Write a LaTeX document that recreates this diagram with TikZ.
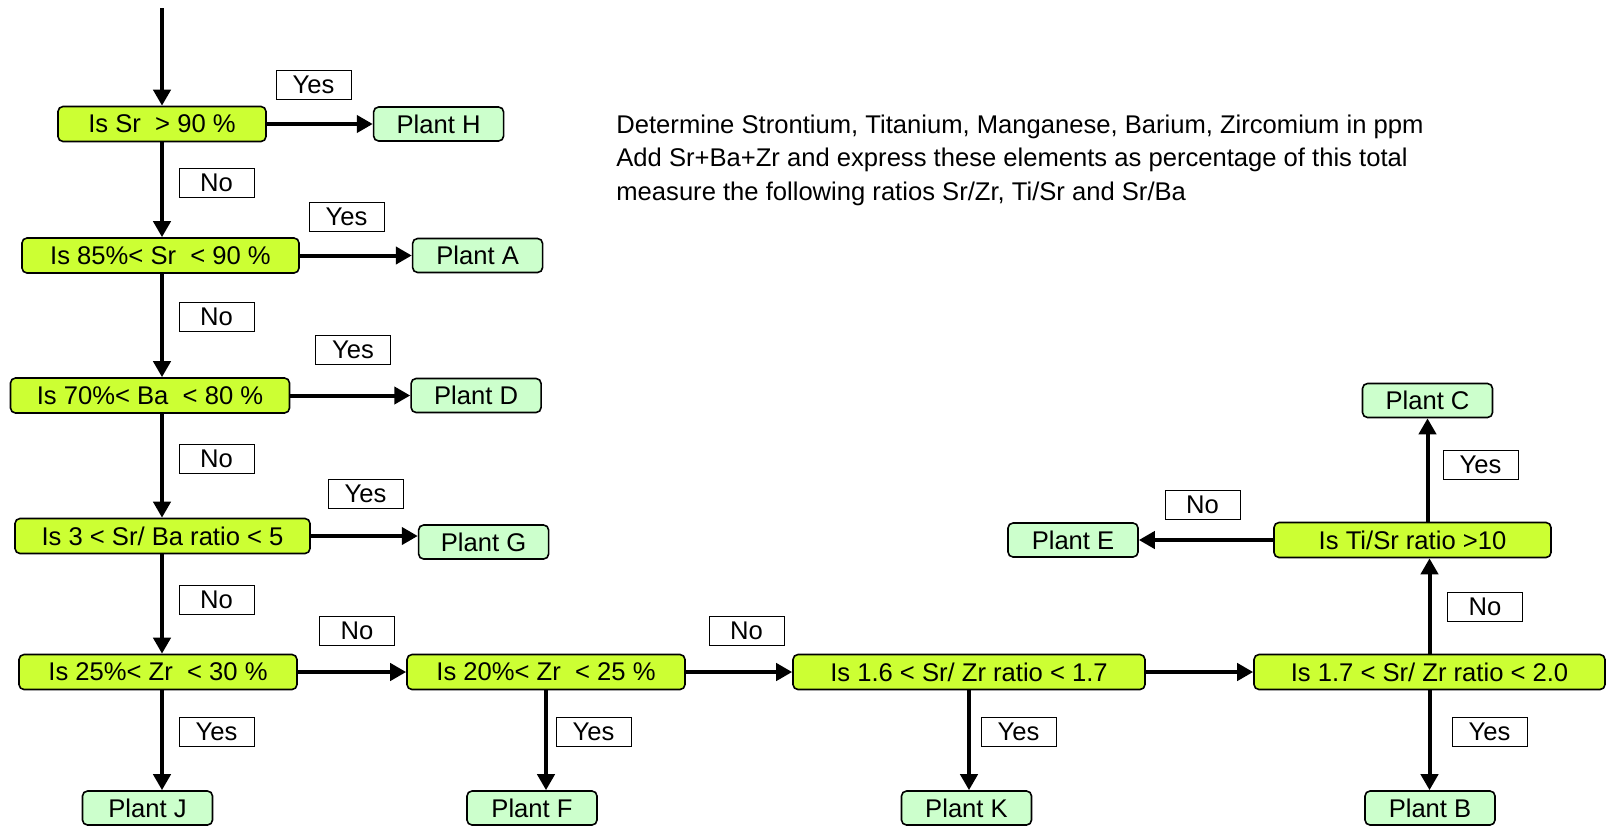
\documentclass[tikz,border=0pt]{standalone}
\usepackage{fontspec}
\setmainfont{Liberation Sans}
\usepackage{xcolor}
\usepackage{tikz}
\usetikzlibrary{arrows.meta, positioning, calc}
\definecolor{test-lime}{RGB}{204, 255, 51}
\definecolor{plant-mint}{RGB}{204, 255, 204}
\newcommand{\chartfont}{\fontsize{12.8}{16.75}\selectfont}

\begin{document}
\begin{tikzpicture}[x=0.5pt, y=-0.5pt,
        test/.style={rectangle, rounded corners=2.5pt, draw=black, line width=0.8pt,
                     fill=test-lime, minimum height=17.5pt, inner sep=0pt,
                     font=\chartfont},
        plant/.style={rectangle, rounded corners=2.5pt, draw=black, line width=0.8pt,
                      fill=plant-mint, minimum width=65pt, minimum height=17pt,
                      inner sep=0pt, font=\chartfont},
        tag/.style={rectangle, draw=black, line width=0.5pt, fill=white,
                    minimum width=37.5pt, minimum height=14.5pt, inner sep=0pt,
                    font=\chartfont},
        arr/.style={-{Triangle[length=8pt, width=8.5pt]}, line width=2pt}
      ]
        \useasboundingbox (0,0) rectangle (1609,825);
        \coordinate (top) at (162,8);
        \coordinate (spine) at (162,0);

        % left column of tests
        \node[test, minimum width=104pt]   (sr90) at (162,124)   {Is Sr\ \ > 90 \%};
        \node[test, minimum width=138.5pt] (sr85) at (160.5,255.5) {Is 85\%< Sr\ \ < 90 \%};
        \node[test, minimum width=139.5pt] (ba70) at (150,395.5) {Is 70\%< Ba\ \ < 80 \%};
        \node[test, minimum width=147.5pt] (srba) at (162.5,536) {Is 3 < Sr/ Ba ratio < 5};
        \node[test, minimum width=139pt]   (zr25) at (158,672)   {Is 25\%< Zr\ \ < 30 \%};

        % bottom row and right side
        \node[test, minimum width=139pt]   (zr20)   at (546,672)    {Is 20\%< Zr\ \ < 25 \%};
        \node[test, minimum width=176pt]   (srzr16) at (969,672)    {Is 1.6 < Sr/ Zr ratio < 1.7};
        \node[test, minimum width=175.5pt] (srzr17) at (1429.5,672) {Is 1.7 < Sr/ Zr ratio < 2.0};
        \node[test, minimum width=138.5pt] (tisr)   at (1412.5,540) {Is Ti/Sr ratio >10};

        % plants
        \node[plant, right=53pt of sr90] (pH) {Plant H};
        \node[plant, right=56pt of sr85] (pA) {Plant A};
        \node[plant, right=60pt of ba70] (pD) {Plant D};
        \node[plant, right=53.5pt of srba, yshift=-3pt] (pG) {Plant G};
        \node[plant] (pJ) at (147.5,808)  {Plant J};
        \node[plant] (pF) at (532,808)    {Plant F};
        \node[plant] (pK) at (966.5,808)  {Plant K};
        \node[plant] (pB) at (1430,808)   {Plant B};
        \node[plant] (pC) at (1427.5,400.5) {Plant C};
        \node[plant] (pE) at (1073,540)   {Plant E};

        % arrows
        \draw[arr] (top) -- (sr90);
        \draw[arr] (sr90.south -| spine) -- (sr85.north -| spine);
        \draw[arr] (sr85.south -| spine) -- (ba70.north -| spine);
        \draw[arr] (ba70.south -| spine) -- (srba.north -| spine);
        \draw[arr] (srba.south -| spine) -- (zr25.north -| spine);
        \draw[arr] (zr25.south -| spine) -- (pJ.north -| spine);
        \draw[arr] (sr90) -- (pH);
        \draw[arr] (sr85) -- (pA);
        \draw[arr] (ba70) -- (pD);
        \draw[arr] (srba.east) -- (srba.east -| pG.west);
        \draw[arr] (zr25) -- (zr20);
        \draw[arr] (zr20) -- (srzr16);
        \draw[arr] (srzr16) -- (srzr17);
        \draw[arr] (zr20.south) -- (zr20.south |- pF.north);
        \draw[arr] (srzr16.south) -- (srzr16.south |- pK.north);
        \draw[arr] (srzr17.south) -- (srzr17.south |- pB.north);
        \draw[arr] (srzr17.north) -- (srzr17.north |- tisr.south);
        \draw[arr] (tisr) -- (pE);
        \draw[arr] (pC.south |- tisr.north) -- (pC.south);

        % yes / no tags
        \node[tag] (yes1) at (313.5,85)    {Yes};
        \node[tag] (no1)  at (216.5,182.5) {No};
        \node[tag] (yes2) at (346.5,216.5) {Yes};
        \node[tag] (no2)  at (216.5,317)   {No};
        \node[tag] (yes3) at (353,350)     {Yes};
        \node[tag] (no3)  at (216.5,458.5) {No};
        \node[tag] (yes4) at (365.5,493.5) {Yes};
        \node[tag] (no4)  at (216.5,600)   {No};
        \node[tag] (no5)  at (357,631)     {No};
        \node[tag] (no6)  at (746.5,631)   {No};
        \node[tag] (yes5) at (216.5,732)   {Yes};
        \node[tag] (yes6) at (593.5,732)   {Yes};
        \node[tag] (yes7) at (1018.5,732)  {Yes};
        \node[tag] (yes8) at (1489.5,732)  {Yes};
        \node[tag] (no8)  at (1485,606.5)  {No};
        \node[tag] (yes9) at (1480.5,464.5) {Yes};
        \node[tag] (no9)  at (1202.5,505)  {No};

        \node[align=left, anchor=west, inner sep=0pt, font=\chartfont] (info) at (616,160)
          {Determine Strontium, Titanium, Manganese, Barium, Zircomium in ppm\\
           Add Sr+Ba+Zr and express these elements as percentage of this total\\
           measure the following ratios Sr/Zr, Ti/Sr and Sr/Ba};
      \end{tikzpicture}
\end{document}
